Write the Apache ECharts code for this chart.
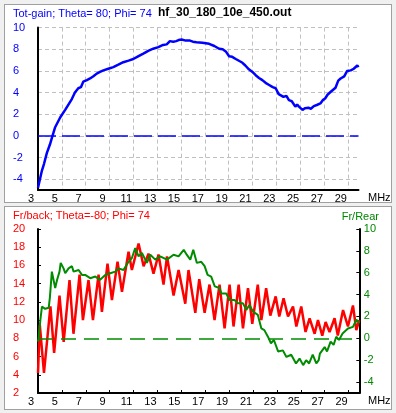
<!DOCTYPE html>
<html><head><meta charset="utf-8">
<script src="https://cdn.jsdelivr.net/npm/echarts@6/dist/echarts.min.js"></script>
<style>
html,body{margin:0;padding:0;background:#f0f0f0;width:396px;height:413px;overflow:hidden}
.panel{position:absolute;left:4px;width:386px;background:#fff;border:1px solid #a0a0a0;}
#p1{top:4px;height:197px}
#p2{top:206px;height:202px}
#chart{position:absolute;left:0;top:0;width:396px;height:413px}
</style></head><body>
<div class="panel" id="p1"></div><div class="panel" id="p2"></div>
<div id="chart"></div>
<script>
// ---- Tot-gain (top panel) ----
const gainFreq = [3.0, 3.33, 3.5, 3.74, 4.0, 4.16, 4.44, 4.86, 5.28, 5.84,
  6.1, 6.38, 6.6, 6.8, 7.1, 7.37, 7.65, 7.93, 8.2, 8.49,
  8.9, 9.32, 9.7, 10.16, 10.6, 11.0, 11.4, 11.84, 12.25, 12.67,
  13.1, 13.5, 13.8, 14.07, 14.35, 14.6, 14.8, 15.05, 15.4, 15.75,
  16.0, 16.3, 16.8, 17.36, 17.8, 18.2, 18.5, 18.76, 19.04, 19.3,
  19.6, 20.16, 20.4, 20.7, 21.0, 21.27, 21.55, 21.83, 22.1, 22.4,
  22.7, 22.95, 23.2, 23.6, 23.85, 24.06, 24.3, 24.6, 24.75, 24.9,
  25.2, 25.4, 25.7, 25.9, 26.15, 26.4, 26.7, 26.9, 27.1, 27.3,
  27.55, 27.97, 28.2, 28.4, 28.7, 28.95, 29.25, 29.5, 29.8, 29.9];
const gainVal = [-4.8, -3.2, -2.6, -1.6, -0.8, -0.2, 0.8, 1.7, 2.4, 3.4,
  4.0, 4.4, 4.5, 5.0, 5.15, 5.3, 5.5, 5.75, 5.9, 6.05,
  6.2, 6.35, 6.55, 6.8, 6.95, 7.1, 7.35, 7.6, 7.85, 8.05,
  8.2, 8.4, 8.45, 8.75, 8.7, 8.75, 8.85, 8.9, 8.8, 8.8,
  8.7, 8.65, 8.6, 8.5, 8.3, 8.05, 8.0, 7.8, 7.35, 7.3,
  7.1, 6.75, 6.5, 6.15, 5.9, 5.6, 5.35, 5.15, 4.9, 4.7,
  4.5, 4.4, 3.85, 3.6, 3.7, 3.3, 3.2, 2.7, 2.9, 2.7,
  2.4, 2.55, 2.6, 2.5, 2.75, 2.85, 3.0, 3.3, 3.45, 3.8,
  4.05, 4.45, 5.1, 5.3, 5.5, 6.0, 6.05, 6.2, 6.5, 6.35];

// ---- Fr/back (bottom panel, left axis, red) ----
const fbFreq = [3.0, 3.15, 3.5, 4.04, 4.35, 4.8, 5.15, 5.64, 5.97, 6.48,
  6.76, 7.23, 7.6, 8.07, 8.35, 8.82, 9.19, 9.66, 10.03, 10.58,
  10.86, 11.42, 11.84, 12.25, 12.67, 13.09, 13.51, 13.8, 14.35, 14.77,
  15.33, 15.6, 16.17, 16.5, 16.95, 17.36, 17.78, 18.2, 18.62, 19.04,
  19.37, 19.8, 20.16, 20.58, 20.94, 21.4, 21.7, 22.1, 22.45, 22.9,
  23.2, 23.56, 23.93, 24.35, 24.63, 25.04, 25.4, 25.74, 26.16, 26.44,
  26.8, 27.08, 27.41, 27.83, 28.1, 28.54, 28.95, 29.37, 29.65, 29.9];
const fbVal = [4.2, 9.5, 4.2, 11.5, 6.4, 12.7, 7.6, 14.4, 8.5, 15.0,
  10.0, 14.4, 10.0, 15.0, 10.9, 16.2, 12.2, 16.4, 13.1, 17.5,
  15.5, 18.4, 15.9, 17.3, 15.1, 17.2, 13.9, 17.0, 12.7, 15.5,
  11.8, 15.5, 10.8, 14.5, 10.8, 13.9, 10.0, 13.9, 9.1, 13.9,
  9.3, 13.9, 9.1, 13.5, 9.6, 13.9, 10.0, 13.5, 10.5, 12.6,
  10.4, 12.4, 10.4, 11.5, 9.3, 11.5, 8.7, 10.2, 8.5, 10.0,
  8.3, 9.8, 8.7, 10.2, 8.3, 11.1, 9.3, 11.6, 8.9, 10.0];

// ---- Fr/Rear (bottom panel, right axis, green) ----
const frFreq = [3.0, 3.05, 3.2, 3.33, 3.6, 3.9, 4.0, 4.16, 4.44, 4.6,
  4.8, 4.9, 5.14, 5.28, 5.56, 5.84, 5.98, 6.4, 6.68, 6.95,
  7.37, 7.8, 8.2, 8.63, 9.05, 9.47, 9.74, 10.16, 10.58, 10.86,
  11.14, 11.42, 11.7, 12.12, 12.4, 12.82, 13.23, 13.8, 14.35, 14.77,
  15.2, 15.45, 15.75, 16.0, 16.3, 16.67, 16.95, 17.2, 17.5, 17.8,
  18.2, 18.35, 18.76, 19.04, 19.45, 19.74, 20.16, 20.44, 20.7, 21.0,
  21.4, 21.7, 21.95, 22.1, 22.25, 22.5, 22.75, 23.1, 23.5, 23.8,
  24.2, 24.6, 24.9, 25.2, 25.45, 25.7, 26.0, 26.3, 26.5, 26.6,
  27.0, 27.2, 27.5, 27.75, 27.97, 28.2, 28.5, 28.95, 29.37, 29.65,
  29.9];
const frVal = [-0.3, 0.0, 1.7, 2.9, 2.7, 2.8, 3.8, 6.1, 4.6, 5.35,
  6.1, 6.9, 6.4, 5.95, 6.4, 6.6, 6.1, 6.25, 5.8, 5.8,
  5.5, 5.65, 5.35, 5.8, 5.95, 6.1, 6.4, 6.25, 7.0, 7.35,
  8.25, 7.5, 7.8, 6.9, 7.65, 7.2, 7.5, 7.2, 7.65, 7.5,
  8.1, 7.65, 7.2, 8.1, 6.9, 7.0, 6.6, 5.8, 5.65, 4.75,
  4.6, 4.1, 4.1, 3.5, 3.5, 3.2, 3.2, 2.6, 3.05, 2.45,
  2.15, 0.9, 0.75, 0.9, 0.15, -0.45, -0.15, -1.2, -1.1, -1.7,
  -1.5, -2.3, -1.85, -2.45, -2.0, -2.3, -1.5, -2.3, -2.0, -1.4,
  -0.8, -1.2, -0.3, -0.6, 0.15, -0.15, 0.45, 0.9, 1.05, 1.7,
  1.4];

const titles = ['Tot-gain; Theta= 80; Phi= 74', 'hf_30_180_10e_450.out', 'Fr/back; Theta=-80; Phi= 74', 'Fr/Rear', 'MHz'];

const zip = (a, b) => a.map((x, i) => [x, b[i]]);
const FONT = '"Liberation Sans", Arial, sans-serif';
const BLUE = '#0000ff', RED = '#ff0000', GREEN = '#008c00', GREENTXT = '#008800';

function ttl(text, pos, color, size, weight) {
  return Object.assign({ text, padding: 0, textStyle: { color, fontSize: size, fontWeight: weight || 'normal', fontFamily: FONT } }, pos);
}

const chart = echarts.init(document.getElementById('chart'), null, { renderer: 'canvas' });
const axisLineBlack = { show: true, onZero: false, lineStyle: { color: '#000', width: 2 } };
const gridDash = { color: '#c0c0c0', type: [4, 3], width: 1 };

chart.setOption({
  animation: false,
  backgroundColor: 'transparent',
  textStyle: { fontFamily: FONT },
  title: [
    ttl(titles[0], { left: 13, top: 8 }, BLUE, 11),
    ttl(titles[1], { left: 158, top: 7 }, '#000', 12, 'bold'),
    ttl(titles[4], { left: 368, top: 192 }, '#000', 11),
    ttl(titles[2], { left: 13, top: 210 }, RED, 11),
    ttl(titles[3], { right: 17, top: 211 }, GREENTXT, 11),
    ttl(titles[4], { left: 368, top: 395 }, '#000', 11)
  ],
  grid: [
    { left: 38, right: 37.5, top: 27.6, bottom: 223 },
    { left: 38, right: 36.7, top: 229, bottom: 20 }
  ],
  xAxis: [
    { gridIndex: 0, type: 'value', min: 3, max: 29.9, interval: 2,
      axisLine: axisLineBlack, axisTick: { show: false },
      axisLabel: { color: '#000', fontSize: 11, margin: 3, padding: [0, 14, 0, 0], showMaxLabel: false, fontFamily: FONT },
      splitLine: { show: true, showMinLine: false, showMaxLine: false, lineStyle: gridDash } },
    { gridIndex: 1, type: 'value', min: 3, max: 29.9, interval: 2,
      axisLine: axisLineBlack, axisTick: { show: true, inside: true, length: 3, lineStyle: { color: '#000', width: 1 } },
      axisLabel: { color: '#000', fontSize: 11, margin: 3, padding: [0, 14, 0, 0], showMaxLabel: false, fontFamily: FONT },
      splitLine: { show: false } }
  ],
  yAxis: [
    { gridIndex: 0, type: 'value', min: -5, max: 10, splitNumber: 7,
      axisLine: axisLineBlack, axisTick: { show: false },
      axisLabel: { color: BLUE, fontSize: 11, align: 'left', margin: 25, showMinLabel: false, fontFamily: FONT },
      splitLine: { show: true, showMinLine: false, lineStyle: gridDash } },
    { gridIndex: 1, type: 'value', min: 2, max: 20, interval: 2, position: 'left',
      axisLine: axisLineBlack, axisTick: { show: true, inside: true, length: 3, lineStyle: { color: '#000', width: 1 } },
      axisLabel: { color: RED, fontSize: 11, align: 'left', margin: 25, fontFamily: FONT },
      splitLine: { show: false } },
    { gridIndex: 1, type: 'value', min: -5, max: 10, splitNumber: 7, position: 'right',
      axisLine: axisLineBlack, axisTick: { show: true, inside: true, length: 3, lineStyle: { color: '#000', width: 1 } },
      axisLabel: { color: GREENTXT, fontSize: 11, margin: 4.5, showMinLabel: false, fontFamily: FONT },
      splitLine: { show: false } }
  ],
  series: [
    { type: 'line', xAxisIndex: 0, yAxisIndex: 0, data: zip(gainFreq, gainVal),
      symbol: 'none', lineStyle: { color: BLUE, width: 2.5 }, itemStyle: { color: BLUE },
      markLine: { silent: true, symbol: 'none', label: { show: false },
        lineStyle: { color: BLUE, type: [18, 6], width: 1.5 }, data: [{ yAxis: 0 }] } },
    { type: 'line', xAxisIndex: 1, yAxisIndex: 1, data: zip(fbFreq, fbVal),
      symbol: 'none', lineStyle: { color: RED, width: 2.5 }, itemStyle: { color: RED } },
    { type: 'line', xAxisIndex: 1, yAxisIndex: 2, data: zip(frFreq, frVal),
      symbol: 'none', lineStyle: { color: GREEN, width: 2 }, itemStyle: { color: GREEN },
      markLine: { silent: true, symbol: 'none', label: { show: false },
        lineStyle: { color: GREEN, type: [15, 8], width: 1.5 }, data: [{ yAxis: 0 }] } }
  ]
});
</script></body></html>
